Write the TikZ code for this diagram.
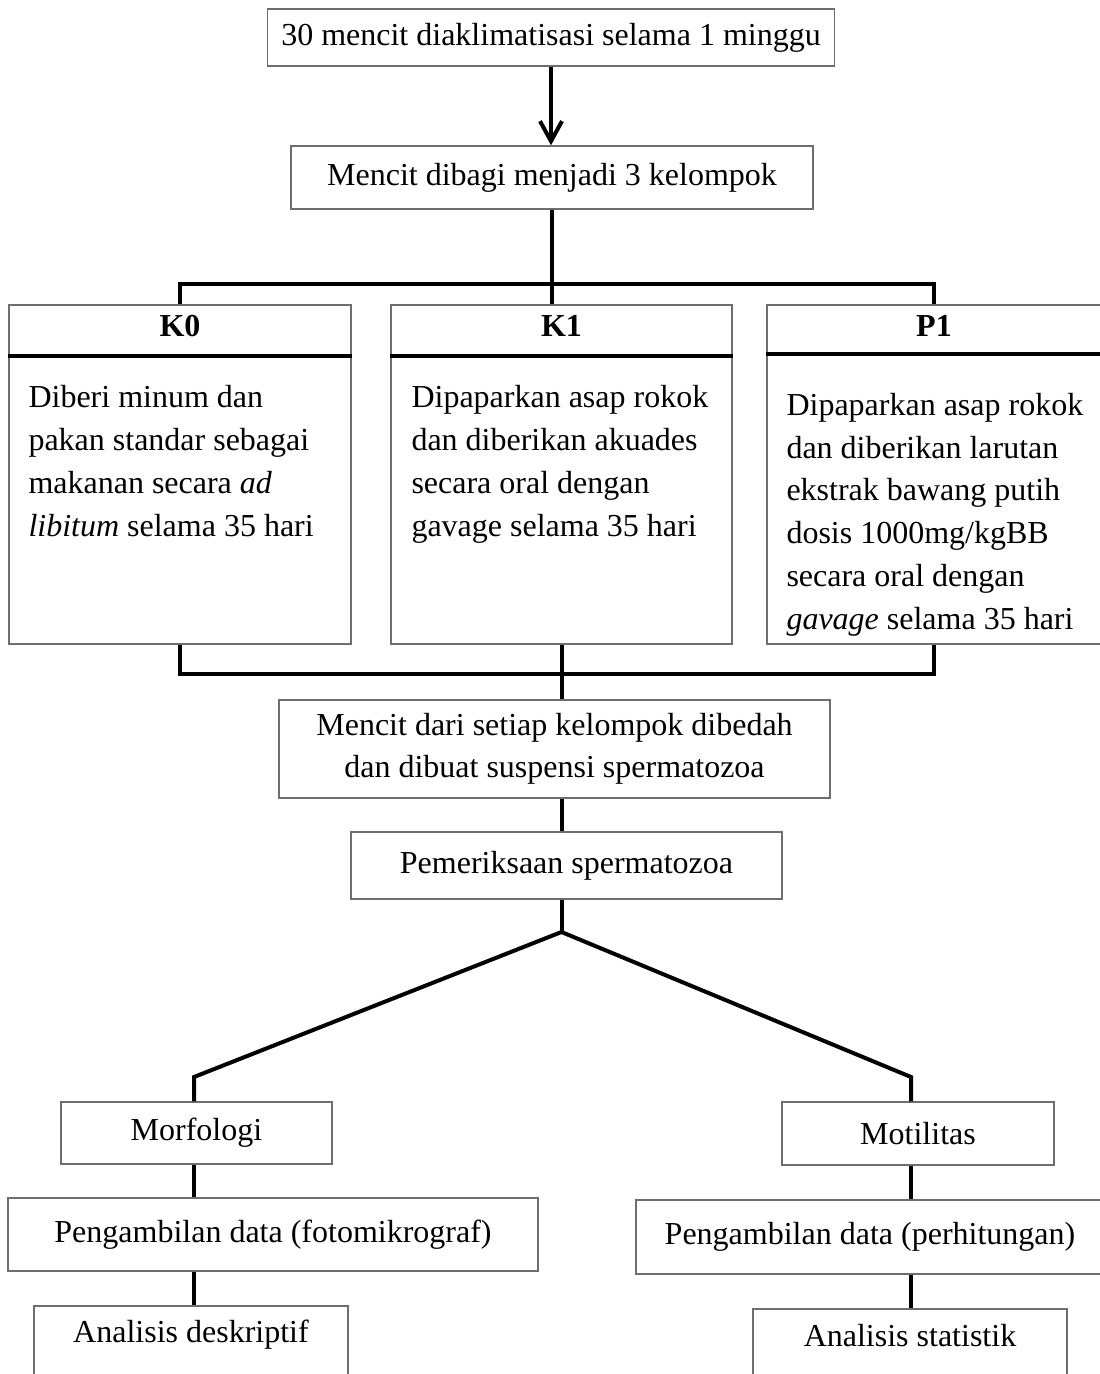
\documentclass[tikz,border=0pt]{standalone}
\usepackage{fontspec}
\setmainfont{Liberation Serif}
\usetikzlibrary{arrows.meta}
\definecolor{boxline}{RGB}{110,110,110}
\begin{document}
\begin{tikzpicture}[x=1pt,y=-1pt,
  box/.style={draw=boxline, line width=1.4pt, inner sep=0pt, align=center, font=\fontsize{32}{42}\selectfont},
  conn/.style={line width=4pt, black},
  body/.style={anchor=base west, inner sep=0pt, align=left, font=\fontsize{32}{43}\selectfont},
  bodyp/.style={anchor=base west, inner sep=0pt, align=left, font=\fontsize{32}{42.8}\selectfont},
  head/.style={inner sep=0pt, anchor=base, font=\fontsize{32}{40}\selectfont\bfseries},
  plain/.style={inner sep=0pt, font=\fontsize{32}{42}\selectfont},
]
\useasboundingbox (0,0) rectangle (1100,1374);

% top boxes
\node[box, minimum width=567pt, minimum height=57pt] (A) at (551,37.5) {30 mencit diaklimatisasi selama 1 minggu};
\node[box, minimum width=522pt, minimum height=63pt] (B) at (552,177.5) {Mencit dibagi menjadi 3 kelompok};
\draw[conn, -{Straight Barb[length=20pt,width=22pt]}] (A.south) -- (A.south |- B.north);

% group boxes
\node[box, minimum width=342pt, minimum height=339pt] (K0) at (180,474.5) {};
\node[box, minimum width=341pt, minimum height=339pt] (K1) at (561.5,474.5) {};
\node[box, minimum width=334pt, minimum height=339pt] (P1) at (934,474.5) {};

\coordinate (tj) at (552,284);
\draw[conn] (B.south) -- (tj |- K1.north);
\draw[conn] (K0.north) -- (K0.north |- tj) -- (P1.north |- tj) -- (P1.north);

\draw[conn] ([yshift=-52pt]K0.north west) -- ([yshift=-52pt]K0.north east);
\draw[conn] ([yshift=-52pt]K1.north west) -- ([yshift=-52pt]K1.north east);
\draw[conn] ([yshift=-50pt]P1.north west) -- ([yshift=-50pt]P1.north east);

\node[head] (K0h) at ([yshift=-32pt]K0.north) {K0};
\node[head] (K1h) at ([yshift=-32pt]K1.north) {K1};
\node[head] (P1h) at ([yshift=-32pt]P1.north) {P1};

% anchor base = baseline of the last line
\node[body] (K0b) at ([xshift=20pt,yshift=-232pt]K0.north west) {Diberi minum dan\\pakan standar sebagai\\makanan secara \textit{ad}\\\textit{libitum} selama 35 hari};
\node[body] (K1b) at ([xshift=21pt,yshift=-232pt]K1.north west) {Dipaparkan asap rokok\\dan diberikan akuades\\secara oral dengan\\gavage selama 35 hari};
\node[bodyp] (P1b) at ([xshift=20pt,yshift=-325pt]P1.north west) {Dipaparkan asap rokok\\dan diberikan larutan\\ekstrak bawang putih\\dosis 1000mg/kgBB\\secara oral dengan\\\textit{gavage} selama 35 hari};

% merge
\node[box, minimum width=551pt, minimum height=98pt] (C) at (554.5,749) {Mencit dari setiap kelompok dibedah\\dan dibuat suspensi spermatozoa};
\node[box, minimum width=431pt, minimum height=67pt] (D) at (566.5,865.5) {Pemeriksaan spermatozoa};

\draw[conn] (K0.south) -- ++(0,29) -| (P1.south);
\draw[conn] (K1.south) -- (K1.south |- C.north);
\draw[conn] (K1.south |- C.south) -- (K1.south |- D.north);

\coordinate (V) at (561.5,932);
\coordinate (Lb) at (194,1077);
\coordinate (Rb) at (911,1077);
\draw[conn] (K1.south |- D.south) -- (V);

% branches
\node[box, minimum width=271pt, minimum height=62pt] (Mo) at (196.5,1133) {Morfologi};
\node[box, minimum width=272pt, minimum height=63pt] (Mt) at (918,1133.5) {Motilitas};
\draw[conn, line join=miter] (Lb |- Mo.north) -- (Lb) -- (V) -- (Rb) -- (Rb |- Mt.north);

\node[box, minimum width=530pt, minimum height=73pt] (PL) at (273,1234.5) {Pengambilan data (fotomikrograf)};
\node[box, minimum width=468pt, minimum height=74pt] (PR) at (870,1237) {Pengambilan data (perhitungan)};

\node[box, minimum width=314pt, minimum height=84pt] (AD) at (191,1348) {};
\node[box, minimum width=314pt, minimum height=81pt] (AS) at (910,1349.5) {};
\node[plain] (ADt) at (191,1335) {Analisis deskriptif};
\node[plain] (ASt) at (910,1336) {Analisis statistik};

\draw[conn] (Lb |- Mo.south) -- (Lb |- PL.north);
\draw[conn] (Lb |- PL.south) -- (Lb |- AD.north);
\draw[conn] (Rb |- Mt.south) -- (Rb |- PR.north);
\draw[conn] (Rb |- PR.south) -- (Rb |- AS.north);
\end{tikzpicture}
\end{document}
